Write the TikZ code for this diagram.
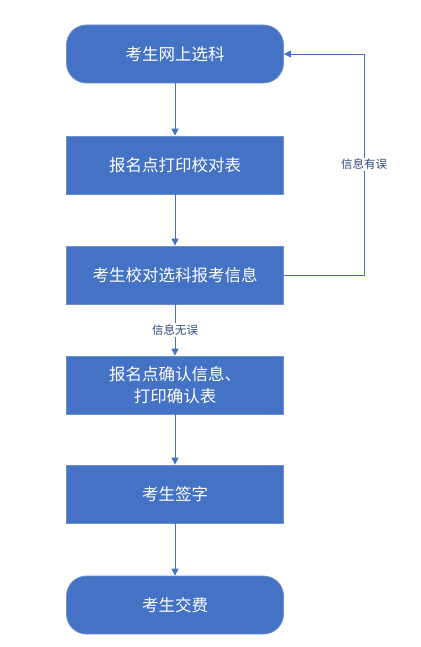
\documentclass[tikz,border=0pt]{standalone}
\usepackage{fontspec}
\setmainfont{Noto Sans CJK SC}
\usetikzlibrary{arrows.meta}
\definecolor{boxfill}{HTML}{4472C4}
\definecolor{boxline}{HTML}{6E8FD0}
\definecolor{lbl}{HTML}{2F4A7A}
\tikzset{
  stepbox/.style={draw=boxline, line width=0.8pt, fill=boxfill, text=white, minimum width=217pt, minimum height=58pt, align=center, font=\fontsize{16.5}{22}\selectfont},
  termbox/.style={stepbox, rounded corners=20pt},
  conn/.style={draw=boxfill, line width=0.9pt, -{Triangle[length=7pt,width=7pt]}},
  lab/.style={fill=white, text=lbl, font=\fontsize{11.5}{13}\selectfont, inner sep=1.5pt}
}
\begin{document}
\begin{tikzpicture}[x=1pt,y=1pt]
\useasboundingbox (0,0) rectangle (420,-647);
\node[termbox] (n1) at (175,-54) {考生网上选科};
\node[stepbox] (n2) at (175,-165) {报名点打印校对表};
\node[stepbox] (n3) at (175,-275) {考生校对选科报考信息};
\node[stepbox] (n4) at (175,-385) {报名点确认信息、\\打印确认表};
\node[stepbox] (n5) at (175,-494) {考生签字};
\node[termbox] (n6) at (175,-605) {考生交费};
\draw[conn] (n1) -- (n2);
\draw[conn] (n2) -- (n3);
\draw[conn] (n3) -- node[lab, pos=0.5]{信息无误} (n4);
\draw[conn] (n4) -- (n5);
\draw[conn] (n5) -- (n6);
\coordinate (r3) at (364,-275);
\coordinate (r1) at (364,-54);
\draw[conn] (n3.east) -- (r3) -- node[lab, pos=0.5]{信息有误} (r1) -- (n1.east);
\end{tikzpicture}
\end{document}
